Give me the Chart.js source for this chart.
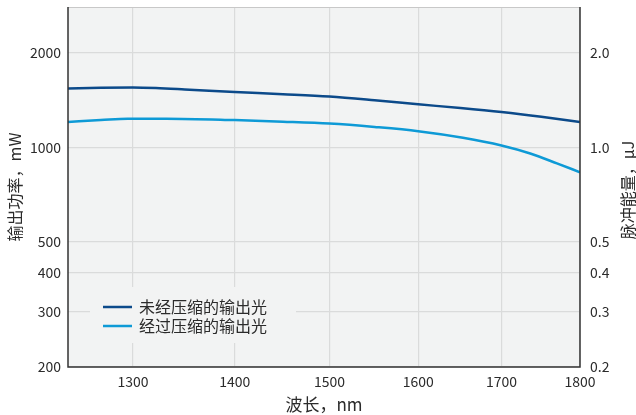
<!DOCTYPE html>
<html>
<head>
<meta charset="utf-8">
<script src="https://cdn.jsdelivr.net/npm/chart.js@4"></script>
<style>
  html, body { margin: 0; padding: 0; background: #fff; }
  #wrap { position: relative; width: 636px; height: 415px; }
</style>
</head>
<body>
<div id="wrap"><canvas id="chart"></canvas></div>
<script>
// 波长 (nm) / 输出功率 (mW)
const rawWl  = [1240, 1270, 1300, 1322, 1350, 1400, 1450, 1500, 1550, 1600, 1650, 1700, 1750, 1800];
const rawMw  = [1540, 1548, 1551, 1545, 1530, 1502, 1478, 1452, 1413, 1372, 1335, 1296, 1252, 1205];

const compWl = [1240, 1270, 1295, 1332, 1400, 1450, 1500, 1550, 1600, 1653, 1700, 1736, 1770, 1800];
const compMw = [1205, 1222, 1235, 1235, 1222, 1208, 1191, 1162, 1127, 1074, 1015, 957, 890, 834];

const xTicks  = [1300, 1400, 1500, 1600, 1700, 1800];
const yTicks  = [200, 300, 400, 500, 1000, 2000];
const y2Ticks = [0.2, 0.3, 0.4, 0.5, 1.0, 2.0];

const LABELS = ['未经压缩的输出光', '经过压缩的输出光'];
const COLORS = ['#0c4a8a', '#0e9ad6'];

const FONT = '"Noto Sans CJK SC", "Noto Sans", sans-serif';
const TXT  = '#2b2b2b';
const PLOT_BG = '#f2f3f3';
const GRID = '#dadbdb';

const pts = (xs, ys) => xs.map((x, i) => ({ x, y: ys[i] }));

// plot background + frame
const frame = {
  id: 'frame',
  beforeDraw(chart) {
    const { ctx, chartArea: a } = chart;
    ctx.save();
    ctx.fillStyle = PLOT_BG;
    ctx.fillRect(a.left, a.top, a.right - a.left, a.bottom - a.top);
    ctx.restore();
  },
  afterDatasetsDraw(chart) {
    const { ctx, chartArea: a } = chart;
    ctx.save();
    // legend box sits on top of the grid
    const lx = 90, ly = 287, lw = 206, lh = 56;
    ctx.fillStyle = PLOT_BG;
    ctx.fillRect(lx, ly, lw, lh);
    ctx.font = '16px ' + FONT;
    ctx.textBaseline = 'middle';
    LABELS.forEach((t, i) => {
      const y = 307 + i * 19;
      ctx.strokeStyle = COLORS[i];
      ctx.lineWidth = 2.5;
      ctx.beginPath();
      ctx.moveTo(103, y);
      ctx.lineTo(132, y);
      ctx.stroke();
      ctx.fillStyle = TXT;
      ctx.fillText(t, 139, y);
    });
    // frame
    ctx.strokeStyle = '#c8c8c8';
    ctx.lineWidth = 1;
    ctx.beginPath();
    ctx.moveTo(a.left, a.top + 0.5);
    ctx.lineTo(a.right, a.top + 0.5);
    ctx.stroke();
    ctx.strokeStyle = '#333';
    ctx.lineWidth = 1.5;
    ctx.beginPath();
    ctx.moveTo(a.left, a.top);
    ctx.lineTo(a.left, a.bottom);
    ctx.lineTo(a.right, a.bottom);
    ctx.lineTo(a.right, a.top);
    ctx.stroke();
    // right axis title, reads bottom to top
    ctx.translate(628, 190);
    ctx.rotate(-Math.PI / 2);
    ctx.font = '16px ' + FONT;
    ctx.fillStyle = TXT;
    ctx.textAlign = 'center';
    ctx.textBaseline = 'middle';
    ctx.fillText('脉冲能量，μJ', 0, 0);
    ctx.restore();
  },
};

const fixTicks = vals => scale => { scale.ticks = vals.map(v => ({ value: v })); };
const fitY = w => s => { s.width = w; s.paddingTop = 0; s.paddingBottom = 0; };

new Chart(document.getElementById('chart'), {
  type: 'line',
  data: {
    datasets: [
      { label: LABELS[0], data: pts(rawWl, rawMw), borderColor: COLORS[0] },
      { label: LABELS[1], data: pts(compWl, compMw), borderColor: COLORS[1] },
    ].map(d => ({ ...d, borderWidth: 2.5, pointRadius: 0, cubicInterpolationMode: 'monotone', fill: false })),
  },
  options: {
    responsive: true,
    maintainAspectRatio: false,
    animation: false,
    layout: { padding: { top: 7, left: 0, right: 0, bottom: 0 } },
    plugins: { legend: { display: false }, tooltip: { enabled: false } },
    scales: {
      x: {
        type: 'logarithmic', min: 1240, max: 1800,
        afterBuildTicks: fixTicks(xTicks),
        afterFit: s => { s.height = 48; s.paddingLeft = 0; s.paddingRight = 0; },
        border: { display: false },
        grid: { color: GRID, drawTicks: false, lineWidth: 1.2 },
        ticks: { color: TXT, font: { family: FONT, size: 14 }, padding: 6, maxRotation: 0, autoSkip: false,
          callback: v => String(v) },
        title: { display: true, text: '波长，nm', color: TXT, font: { family: FONT, size: 17 }, padding: { top: 0, bottom: 0 } },
      },
      y: {
        type: 'logarithmic', position: 'left', min: 200, max: 2800,
        afterBuildTicks: fixTicks(yTicks),
        afterFit: fitY(68),
        border: { display: false },
        grid: { color: GRID, drawTicks: false, lineWidth: 1.2 },
        ticks: { color: TXT, font: { family: FONT, size: 14 }, padding: 7, autoSkip: false,
          callback: v => String(v) },
        title: { display: true, text: '输出功率，mW', color: TXT, font: { family: FONT, size: 16 }, padding: { top: 5, bottom: 0 } },
      },
      y2: {
        type: 'logarithmic', position: 'right', min: 0.2, max: 2.8,
        afterBuildTicks: fixTicks(y2Ticks),
        afterFit: fitY(56),
        border: { display: false },
        grid: { display: false, drawTicks: false },
        ticks: { color: TXT, font: { family: FONT, size: 14 }, padding: 10, autoSkip: false,
          callback: v => v.toFixed(1) },
      },
    },
  },
  plugins: [frame],
});
</script>
</body>
</html>
